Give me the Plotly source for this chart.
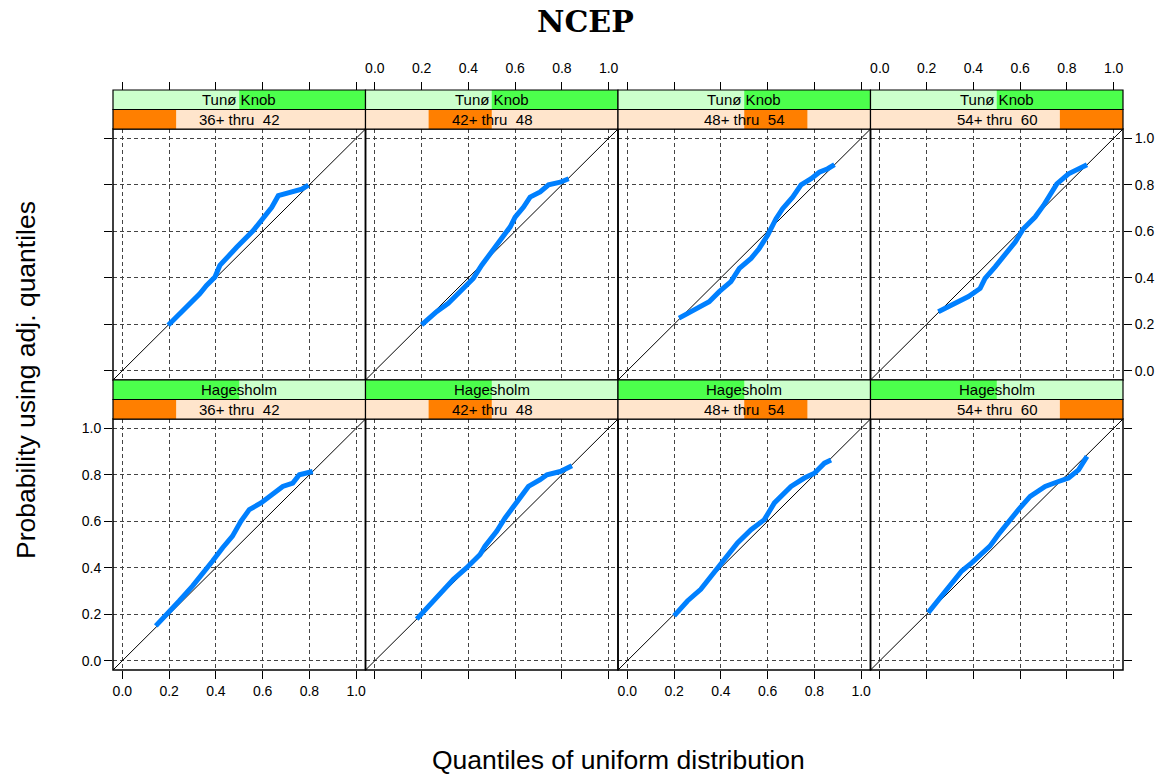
import plotly.graph_objects as go

# ---------------- data ----------------
AX_RANGE = [-0.04, 1.04]
TICK_VALS = [0.0, 0.2, 0.4, 0.6, 0.8, 1.0]
TICK_TEXT = ["0.0", "0.2", "0.4", "0.6", "0.8", "1.0"]

site_levels = ["Hagesholm", "Tunø Knob"]          # factor levels (for strip shading)
row_sites = ["Tunø Knob", "Hagesholm"]            # top row, bottom row
shingle_lo = [36, 42, 48, 54]
shingle_hi = [42, 48, 54, 60]
shingle_labels = ["36+ thru  42", "42+ thru  48", "48+ thru  54", "54+ thru  60"]

# Tunø Knob
tuno_36_x = [0.196, 0.236, 0.276, 0.331, 0.360, 0.396, 0.417, 0.450, 0.489, 0.560, 0.603, 0.639, 0.667, 0.717, 0.767, 0.796]
tuno_36_y = [0.196, 0.234, 0.274, 0.331, 0.367, 0.403, 0.453, 0.490, 0.531, 0.603, 0.653, 0.703, 0.753, 0.767, 0.781, 0.799]
tuno_42_x = [0.200, 0.264, 0.314, 0.364, 0.421, 0.457, 0.507, 0.550, 0.579, 0.600, 0.636, 0.664, 0.707, 0.743, 0.793, 0.829]
tuno_42_y = [0.197, 0.254, 0.290, 0.340, 0.397, 0.454, 0.519, 0.583, 0.619, 0.661, 0.704, 0.747, 0.769, 0.800, 0.811, 0.826]
tuno_48_x = [0.221, 0.271, 0.350, 0.393, 0.443, 0.479, 0.529, 0.564, 0.600, 0.636, 0.664, 0.707, 0.743, 0.786, 0.821, 0.857, 0.886]
tuno_48_y = [0.226, 0.254, 0.297, 0.340, 0.383, 0.440, 0.483, 0.526, 0.583, 0.654, 0.697, 0.747, 0.800, 0.826, 0.854, 0.869, 0.887]
tuno_54_x = [0.250, 0.307, 0.379, 0.429, 0.450, 0.493, 0.536, 0.579, 0.614, 0.664, 0.700, 0.729, 0.757, 0.807, 0.850, 0.886]
tuno_54_y = [0.254, 0.283, 0.319, 0.354, 0.397, 0.447, 0.497, 0.554, 0.611, 0.661, 0.711, 0.761, 0.804, 0.847, 0.869, 0.886]

# Hagesholm
hage_36_x = [0.143, 0.193, 0.243, 0.300, 0.343, 0.386, 0.429, 0.471, 0.507, 0.543, 0.593, 0.657, 0.686, 0.729, 0.757, 0.814]
hage_36_y = [0.150, 0.200, 0.257, 0.321, 0.371, 0.429, 0.486, 0.536, 0.600, 0.650, 0.679, 0.729, 0.750, 0.764, 0.800, 0.814]
hage_42_x = [0.179, 0.229, 0.279, 0.336, 0.393, 0.450, 0.471, 0.521, 0.557, 0.593, 0.621, 0.657, 0.707, 0.736, 0.793, 0.843]
hage_42_y = [0.179, 0.236, 0.286, 0.350, 0.400, 0.457, 0.493, 0.557, 0.614, 0.664, 0.707, 0.750, 0.779, 0.800, 0.814, 0.839]
hage_48_x = [0.200, 0.257, 0.314, 0.371, 0.400, 0.429, 0.471, 0.529, 0.586, 0.629, 0.700, 0.757, 0.800, 0.843, 0.871]
hage_48_y = [0.193, 0.257, 0.307, 0.379, 0.421, 0.450, 0.507, 0.564, 0.607, 0.679, 0.750, 0.786, 0.807, 0.850, 0.864]
hage_54_x = [0.207, 0.264, 0.307, 0.350, 0.393, 0.436, 0.471, 0.507, 0.550, 0.593, 0.643, 0.707, 0.764, 0.807, 0.850, 0.886]
hage_54_y = [0.207, 0.279, 0.336, 0.386, 0.421, 0.464, 0.493, 0.543, 0.600, 0.650, 0.707, 0.750, 0.771, 0.786, 0.821, 0.879]

panel_data = [
    [(tuno_36_x, tuno_36_y), (tuno_42_x, tuno_42_y), (tuno_48_x, tuno_48_y), (tuno_54_x, tuno_54_y)],
    [(hage_36_x, hage_36_y), (hage_42_x, hage_42_y), (hage_48_x, hage_48_y), (hage_54_x, hage_54_y)],
]

# ---------------- layout geometry (pixels) ----------------
W, H = 1171, 775
PANEL_LEFT = 113
PANEL_W = 252.5
ROW_TOP = [129, 419]
PANEL_H = 251
STRIP_H = 19.5

FONT = "Liberation Sans, Arial, Helvetica, sans-serif"
LINE_BLUE = "#0080FF"
GREEN_BG, GREEN_FG = "#CCFFCC", "#4CFF4C"
ORANGE_BG, ORANGE_FG = "#FFE5CC", "#FF7F00"


def px_x(x):
    return x / W


def px_y(y):
    return 1 - y / H


fig = go.Figure()
layout = dict(
    width=W, height=H, autosize=False,
    margin=dict(l=0, r=0, t=0, b=0),
    paper_bgcolor="white", plot_bgcolor="white",
    showlegend=False,
)
shapes = []
annotations = []

for r in range(2):
    for c in range(4):
        n = r * 4 + c + 1
        xa = "x" if n == 1 else f"x{n}"
        ya = "y" if n == 1 else f"y{n}"
        xname = "xaxis" if n == 1 else f"xaxis{n}"
        yname = "yaxis" if n == 1 else f"yaxis{n}"
        x0 = PANEL_LEFT + c * PANEL_W
        x1 = x0 + PANEL_W
        ytop = ROW_TOP[r]
        ybot = ytop + PANEL_H

        # reference line y = x, spanning the axis limits
        fig.add_trace(go.Scatter(x=AX_RANGE, y=AX_RANGE, mode="lines",
                                 line=dict(color="black", width=1),
                                 xaxis=xa, yaxis=ya, hoverinfo="skip"))
        dx, dy = panel_data[r][c]
        fig.add_trace(go.Scatter(x=dx, y=dy, mode="lines",
                                 line=dict(color=LINE_BLUE, width=5),
                                 xaxis=xa, yaxis=ya))

        common = dict(range=AX_RANGE, tickvals=TICK_VALS, ticktext=TICK_TEXT,
                      showgrid=True, gridcolor="#444444", gridwidth=1, griddash="4px,3px",
                      zeroline=False, showline=False, fixedrange=True,
                      tickfont=dict(family=FONT, size=14, color="black"),
                      tickcolor="black", tickwidth=1, ticklen=8, ticks="outside")
        if r == 0:
            xax = dict(common, domain=[px_x(x0), px_x(x1)], anchor="free",
                       position=px_y(ytop - 2 * STRIP_H), side="top",
                       showticklabels=(c in (1, 3)), ticklabelstandoff=3)
        else:
            xax = dict(common, domain=[px_x(x0), px_x(x1)], anchor=ya, side="bottom",
                       showticklabels=(c in (0, 2)))
        layout[xname] = xax

        yax = dict(common, domain=[px_y(ybot), px_y(ytop)], anchor=xa)
        if c == 0:
            yax.update(side="left", showticklabels=(r == 1))
        elif c == 3:
            yax.update(side="right", showticklabels=(r == 0))
        else:
            yax.update(ticks="", showticklabels=False)
        layout[yname] = yax

        # panel border
        shapes.append(dict(type="rect", xref=f"{xa} domain", yref=f"{ya} domain",
                           x0=0, x1=1, y0=0, y1=1, line=dict(color="black", width=1.5),
                           layer="above"))

        # strips: site (upper) and shingle (lower)
        s_top = ytop - 2 * STRIP_H
        s_mid = ytop - STRIP_H
        site = row_sites[r]
        k = site_levels.index(site)
        nlev = len(site_levels)
        shapes.append(dict(type="rect", xref="paper", yref="paper",
                           x0=px_x(x0), x1=px_x(x1), y0=px_y(s_mid), y1=px_y(s_top),
                           fillcolor=GREEN_BG, line=dict(width=0), layer="above"))
        shapes.append(dict(type="rect", xref="paper", yref="paper",
                           x0=px_x(x0 + PANEL_W * k / nlev), x1=px_x(x0 + PANEL_W * (k + 1) / nlev),
                           y0=px_y(s_mid), y1=px_y(s_top),
                           fillcolor=GREEN_FG, line=dict(width=0), layer="above"))
        lo_all, hi_all = min(shingle_lo), max(shingle_hi)
        f0 = (shingle_lo[c] - lo_all) / (hi_all - lo_all)
        f1 = (shingle_hi[c] - lo_all) / (hi_all - lo_all)
        shapes.append(dict(type="rect", xref="paper", yref="paper",
                           x0=px_x(x0), x1=px_x(x1), y0=px_y(ytop), y1=px_y(s_mid),
                           fillcolor=ORANGE_BG, line=dict(width=0), layer="above"))
        shapes.append(dict(type="rect", xref="paper", yref="paper",
                           x0=px_x(x0 + PANEL_W * f0), x1=px_x(x0 + PANEL_W * f1),
                           y0=px_y(ytop), y1=px_y(s_mid),
                           fillcolor=ORANGE_FG, line=dict(width=0), layer="above"))
        for (a, b) in ((s_top, s_mid), (s_mid, ytop)):
            shapes.append(dict(type="rect", xref="paper", yref="paper",
                               x0=px_x(x0), x1=px_x(x1), y0=px_y(b), y1=px_y(a),
                               line=dict(color="black", width=1.2), layer="above"))
        annotations.append(dict(text=site, xref="paper", yref="paper",
                                x=px_x((x0 + x1) / 2), y=px_y((s_top + s_mid) / 2),
                                showarrow=False, xanchor="center", yanchor="middle",
                                font=dict(family=FONT, size=15, color="black")))
        annotations.append(dict(text=shingle_labels[c].replace("  ", " \u00a0"),
                                xref="paper", yref="paper",
                                x=px_x((x0 + x1) / 2), y=px_y((s_mid + ytop) / 2),
                                showarrow=False, xanchor="center", yanchor="middle",
                                font=dict(family=FONT, size=15, color="black")))

# titles
annotations.append(dict(text="<b>NCEP</b>", xref="paper", yref="paper",
                        x=0.5, y=px_y(21), showarrow=False, xanchor="center", yanchor="middle",
                        font=dict(family="DejaVu Serif, serif", size=30, color="black")))
annotations.append(dict(text="Quantiles of uniform distribution", xref="paper", yref="paper",
                        x=px_x(PANEL_LEFT + 2 * PANEL_W), y=px_y(760), showarrow=False,
                        xanchor="center", yanchor="middle",
                        font=dict(family=FONT, size=26.5, color="black")))
annotations.append(dict(text="Probability using adj. quantiles", xref="paper", yref="paper",
                        x=px_x(26), y=px_y((ROW_TOP[0] - 2 * STRIP_H + ROW_TOP[1] + PANEL_H) / 2),
                        showarrow=False, textangle=-90, xanchor="center", yanchor="middle",
                        font=dict(family=FONT, size=26.5, color="black")))

layout["shapes"] = shapes
layout["annotations"] = annotations
fig.update_layout(**layout)
fig.write_html("out.html", config={"displayModeBar": False},
               post_script="document.body.style.margin='0';document.body.style.overflow='hidden';")
